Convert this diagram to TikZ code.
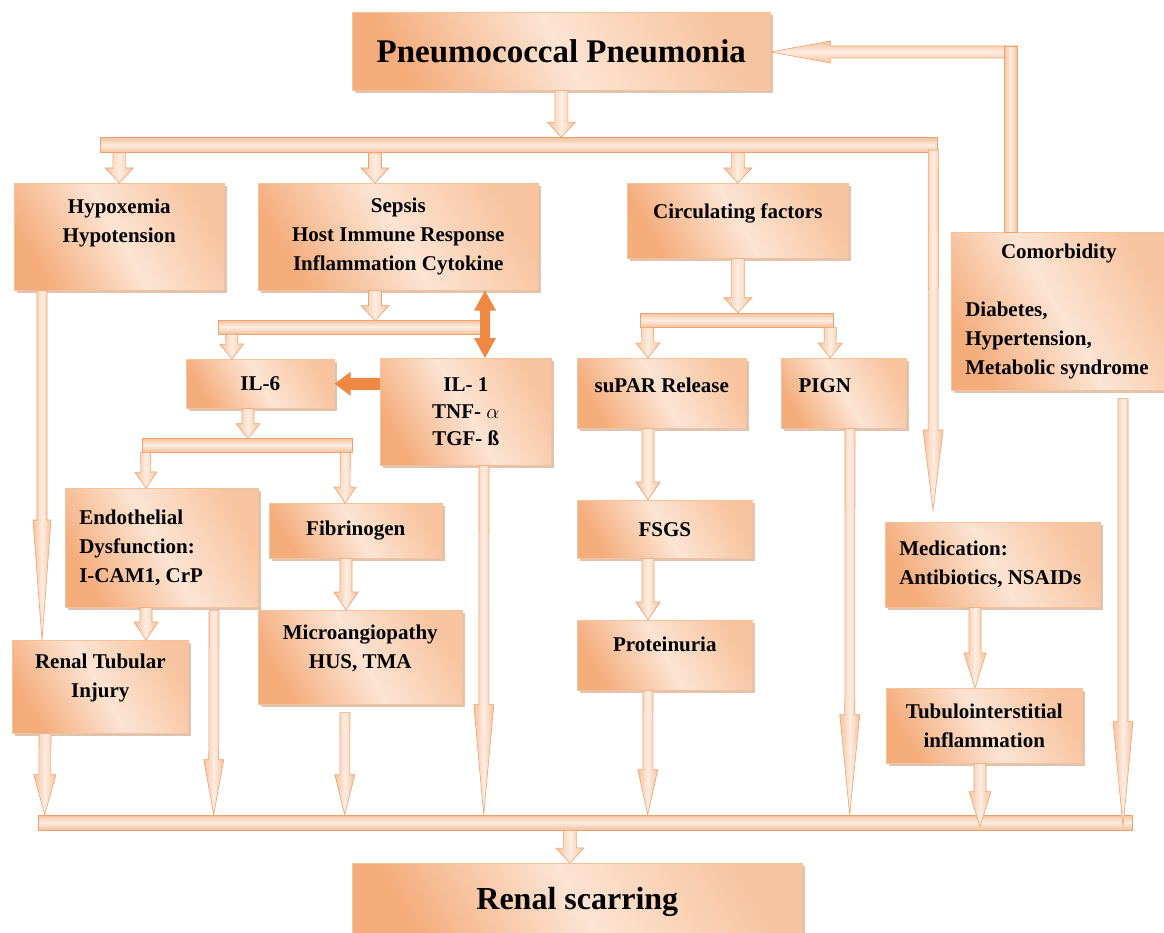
\documentclass[tikz,border=0pt]{standalone}
\usepackage{fontspec}
\setmainfont{Liberation Serif}
\usetikzlibrary{calc,shadows}
\definecolor{boxdark}{HTML}{F4AC7B}
\definecolor{boxlight}{HTML}{FCE4D3}
\definecolor{boxmid}{HTML}{F8C4A0}
\definecolor{boxedge}{HTML}{F6C29C}
\definecolor{boxshade}{HTML}{C99B7E}
\definecolor{pipeedge}{HTML}{EFA26C}
\definecolor{pipefill}{HTML}{F7C29C}
\definecolor{pipelight}{HTML}{FDEDE2}
\definecolor{hotorange}{HTML}{EE8842}
\newcommand{\cardtext}[4][0]{\parbox[c][#3pt][c]{#2pt}{\centering #4\par\vspace{#1pt}}}
\newcommand{\pipearrow}[6][vpipe]{%
\path[#1] let \p1=(#2), \p2=(#3), \n1={atan2(\y2-\y1,\x2-\x1)}, \n2={veclen(\x2-\x1,\y2-\y1)} in
	[shift={(\p1)},rotate=\n1] (0pt,#4pt) -- (\n2-#6pt,#4pt) -- (\n2-#6pt,#5pt) -- (\n2+0pt,0pt)
	-- (\n2-#6pt,-#5pt) -- (\n2-#6pt,-#4pt) -- (0pt,-#4pt) -- cycle;}
\begin{document}
\begin{tikzpicture}[x=1pt,y=-1pt,
	card/.style={draw=boxedge,line width=.6pt,left color=boxdark,right color=boxmid,middle color=boxlight,shading angle=120,
		drop shadow={shadow xshift=2.5pt,shadow yshift=-2.5pt,fill=boxshade,opacity=.6},
		anchor=north west,inner sep=0pt,font=\bfseries\fontsize{21}{29}\selectfont},
	vpipe/.style={draw=pipeedge,line width=.6pt,left color=pipefill,right color=pipefill,middle color=pipelight},
	hpipe/.style={draw=pipeedge,line width=.6pt,top color=pipefill,bottom color=pipefill,middle color=pipelight},
	hbar/.style={hpipe,inner sep=0pt,minimum height=15pt},
	hot/.style={fill=hotorange}]
\fill[white] (0,0) rectangle (1164,933);
\useasboundingbox (0,0) rectangle (1164,933);
\node[card,font=\bfseries\fontsize{33}{40}\selectfont] (pneu) at (352,12) {\cardtext{418}{78}{Pneumococcal Pneumonia}};
\node[card] (hypox) at (14,183) {\cardtext[28]{210}{107}{Hypoxemia\\Hypotension}};
\node[card] (sepsis) at (258,183) {\cardtext{280}{107}{Sepsis\\Host Immune Response\\Inflammation Cytokine}};
\node[card] (circ) at (627,183) {\cardtext[14]{221}{75}{Circulating factors}};
\node[card] (cmb) at (951,232) {\cardtext{215}{158}{Comorbidity\par\vspace{29pt}\raggedright\leftskip=14pt Diabetes,\\Hypertension,\\Metabolic syndrome}};
\node[card] (il6) at (186,359) {\cardtext{148}{49}{IL-6}};
\node[card] (il1) at (380,358) {\cardtext{171}{107}{IL- 1\\[-2pt]TNF- $\alpha$\\[-2pt]TGF- ß}};
\node[card] (supar) at (577,358) {\cardtext[16]{169}{70}{suPAR Release}};
\node[card] (pign) at (781,358) {\cardtext[16]{125}{70}{PIGN\rule{38pt}{0pt}}};
\node[card] (endo) at (65,488) {\cardtext{193}{119}{\raggedright\leftskip=14pt Endothelial\\Dysfunction:\\I-CAM1, CrP}};
\node[card] (fibr) at (269,503) {\cardtext{173}{55}{Fibrinogen}};
\node[card] (rti) at (12,640) {\cardtext[18]{176}{93}{Renal Tubular\\Injury}};
\node[card] (micro) at (258,610) {\cardtext[18]{204}{94}{Microangiopathy\\HUS, TMA}};
\node[card] (fsgs) at (577,500) {\cardtext{175}{58}{FSGS}};
\node[card] (prot) at (577,620) {\cardtext[22]{175}{70}{Proteinuria}};
\node[card] (medi) at (885,522) {\cardtext{215}{85}{\raggedright\leftskip=14pt Medication:\\Antibiotics, NSAIDs}};
\node[card] (tubu) at (886,688) {\cardtext{196}{75}{Tubulointerstitial\\inflammation}};
\node[card,font=\bfseries\fontsize{32}{40}\selectfont] (scar) at (352,863) {\cardtext{450}{78}{Renal scarring}};
\node[hbar,minimum width=837pt] (topbar) at (518.5,145) {};
\node[hbar,minimum width=266pt,minimum height=14pt] (ilbar) at (351,327) {};
\node[hbar,minimum width=210pt,minimum height=14pt] (splitbar) at (247,445) {};
\node[hbar,minimum width=193pt,minimum height=14pt] (circbar) at (736.5,320) {};
\node[hbar,minimum width=1094pt] (endbar) at (585,822.5) {};
\coordinate (loop) at (1010.5,52);
\coordinate (dbl) at (485,324);
\pipearrow{pneu.south}{pneu.south |- topbar.north}{6.5}{14}{15}
\pipearrow{hypox.north |- topbar.south}{hypox.north}{6.5}{14}{15}
\pipearrow{$(sepsis.north west)+(117,-30)$}{$(sepsis.north west)+(117,0)$}{6.5}{14}{15}
\pipearrow{circ.north |- topbar.south}{circ.north}{6.5}{14}{15}
\pipearrow{$(topbar.east)+(-4,5)$}{$(medi.north west)+(48,-12)$}{5}{10}{80}
\pipearrow[hpipe]{loop}{pneu.east |- loop}{6}{11}{60}
\path[vpipe] ($(loop)+(-6.5,-6)$) rectangle ($(cmb.north -| loop)+(6.5,0)$);
\pipearrow{$(hypox.south west)+(28,0)$}{$(rti.north west)+(30,0)$}{5}{9}{120}
\pipearrow{$(sepsis.south west)+(117,0)$}{$(sepsis.south west)+(117,30)$}{6.5}{14}{15}
\pipearrow[hot]{dbl}{dbl |- sepsis.south}{5}{11}{20}
\pipearrow[hot]{dbl}{dbl |- il1.north}{5}{11}{20}
\pipearrow[hot]{il6.east -| il1.west}{il6.east}{6}{12}{16}
\pipearrow{$(ilbar.south west)+(14,0)$}{$(il6.north west)+(46,0)$}{6}{12}{15}
\pipearrow{$(il6.south west)+(62,0)$}{$(il6.south west)+(62,30)$}{6}{12}{15}
\pipearrow{$(splitbar.south west)+(4,0)$}{$(endo.north west)+(81,0)$}{5}{11}{16}
\pipearrow{$(splitbar.south east)+(-7,0)$}{$(fibr.north west)+(76,0)$}{5}{11}{16}
\pipearrow{$(endo.south west)+(81,0)$}{$(rti.north west)+(134,0)$}{6}{12}{18}
\pipearrow{$(endo.south west)+(149,3)$}{$(endbar.north west)+(176,0)$}{5}{10}{55}
\pipearrow{$(fibr.south west)+(77,0)$}{$(micro.north west)+(88,0)$}{6}{12}{18}
\pipearrow{$(micro.south west)+(87,8)$}{$(endbar.north west)+(307,0)$}{5}{10}{40}
\pipearrow{$(il1.south west)+(104,0)$}{$(endbar.north west)+(446,0)$}{5}{10}{110}
\pipearrow{$(rti.south west)+(33,0)$}{$(endbar.north west)+(7,0)$}{6}{11}{40}
\pipearrow{circ.south}{circ.south |- circbar.north}{6.5}{14}{15}
\pipearrow{$(circbar.south west)+(8,0)$}{$(supar.north west)+(71,0)$}{6}{12}{15}
\pipearrow{$(circbar.south east)+(-3,0)$}{$(pign.north west)+(49,0)$}{6}{12}{15}
\pipearrow{$(supar.south west)+(71,0)$}{$(fsgs.north west)+(71,0)$}{6}{12}{18}
\pipearrow{$(fsgs.south west)+(71,0)$}{$(prot.north west)+(71,0)$}{6}{12}{18}
\pipearrow{$(prot.south west)+(71,0)$}{$(endbar.north west)+(610,0)$}{5}{10}{45}
\pipearrow{$(pign.south west)+(69,0)$}{$(endbar.north west)+(812,0)$}{5}{10}{100}
\pipearrow{$(medi.south west)+(90,0)$}{$(tubu.north west)+(89,0)$}{6}{11}{35}
\pipearrow{$(tubu.south west)+(94,0)$}{$(tubu.south west)+(94,63)$}{6}{11}{35}
\pipearrow{$(cmb.south west)+(172,8)$}{$(cmb.south west)+(172,436)$}{5}{10}{105}
\pipearrow{$(endbar.south west)+(532,0)$}{$(scar.north west)+(218,0)$}{6.5}{14}{15}
\end{tikzpicture}
\end{document}
